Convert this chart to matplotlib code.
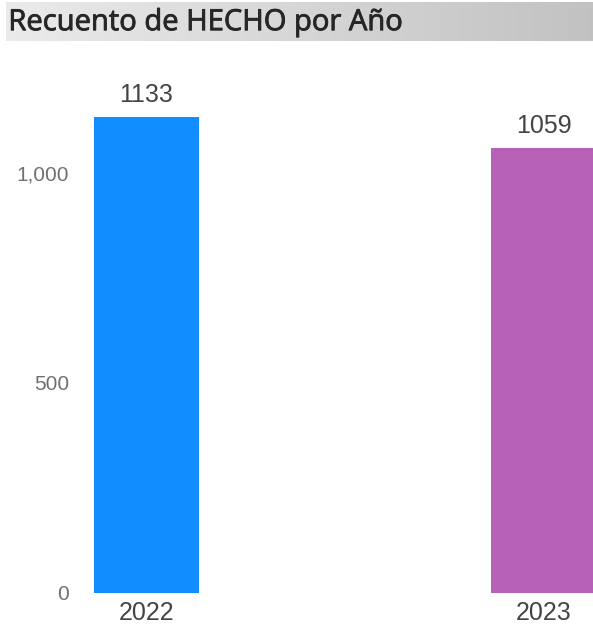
import matplotlib
matplotlib.use("Agg")
import matplotlib.pyplot as plt
import matplotlib.patheffects as pe
import numpy as np

title = "Recuento de HECHO por Año"
years = ["2022", "2023"]
counts = [1133, 1059]
colors = ["#118DFF", "#B660B8"]
yticks = [0, 500, 1000]
ytick_labels = ["0", "500", "1,000"]

W, H = 593, 637
fig = plt.figure(figsize=(W / 100, H / 100), dpi=100)
fig.patch.set_facecolor("white")

# Title bar with gradient
tax = fig.add_axes([6 / W, 1 - 41 / H, 1 - 6 / W, 39 / H])
grad = np.linspace(0.92, 0.76, 256).reshape(1, -1)
tax.imshow(np.dstack([grad, grad, grad]), aspect="auto", extent=[0, 1, 0, 1])
tax.set_axis_off()
tax.text(0.004, 0.47, title, fontsize=21, color="#262626", family="Open Sans",
         va="center", ha="left", transform=tax.transAxes,
         path_effects=[pe.withStroke(linewidth=0.6, foreground="#262626")])

# Main axes: 0 at y=593 px, scale 0.42 px/unit
ax_left, ax_right = 80, 593
ax_bottom_px, ax_top_px = 593, 70
ax = fig.add_axes([ax_left / W, 1 - ax_bottom_px / H,
                   (ax_right - ax_left) / W, (ax_bottom_px - ax_top_px) / H])
scale = 0.42
ax.set_ylim(0, (ax_bottom_px - ax_top_px) / scale)
ppu = 397.0
c0 = 146.5
ax.set_xlim((ax_left - c0) / ppu, (ax_right - c0) / ppu)

x = np.arange(len(years))
bars = ax.bar(x, counts, width=105 / ppu, color=colors)
for xi, v in zip(x, counts):
    ax.text(xi, v + 25, str(v), ha="center", va="bottom", fontsize=18,
            color="#444444", family="Liberation Sans")

ax.set_yticks(yticks)
ax.set_yticklabels(ytick_labels, fontsize=15, color="#707070", family="Liberation Sans")
ax.set_xticks(x)
ax.set_xticklabels(years, fontsize=18, color="#444444", family="Liberation Sans")
ax.tick_params(axis="both", length=0)
ax.tick_params(axis="y", pad=8)
ax.tick_params(axis="x", pad=6)
for s in ax.spines.values():
    s.set_visible(False)
ax.set_facecolor("white")

fig.savefig("out.png", dpi=100, facecolor="white")
